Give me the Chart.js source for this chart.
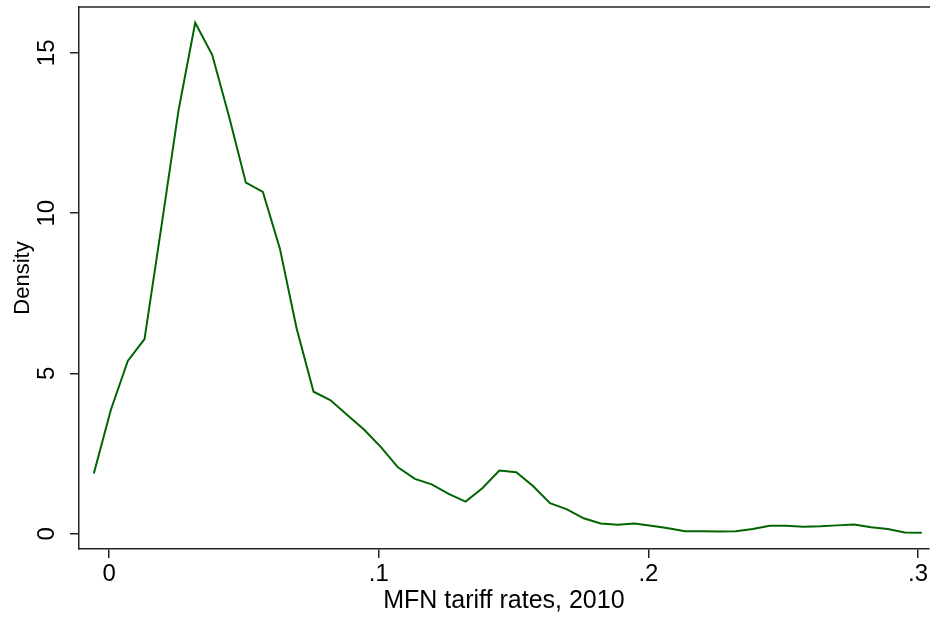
<!DOCTYPE html>
<html>
<head>
<meta charset="utf-8">
<script src="https://cdn.jsdelivr.net/npm/chart.js@4/dist/chart.umd.min.js"></script>
<style>
  html, body { margin: 0; padding: 0; background: #fff; }
  #wrap { width: 930px; height: 618px; }
</style>
</head>
<body>
<div id="wrap"><canvas id="densityChart"></canvas></div>
<script>
// kernel density estimate points
const tariffRates = [-0.0057, 0.0006, 0.0069, 0.0131, 0.0194, 0.0257, 0.0319, 0.0382, 0.0445, 0.0507,
    0.0570, 0.0633, 0.0695, 0.0758, 0.0820, 0.0883, 0.0946, 0.1008, 0.1071, 0.1134,
    0.1196, 0.1259, 0.1322, 0.1384, 0.1447, 0.1510, 0.1572, 0.1635, 0.1698, 0.1760,
    0.1823, 0.1886, 0.1948, 0.2011, 0.2074, 0.2136, 0.2199, 0.2262, 0.2324, 0.2387,
    0.2450, 0.2512, 0.2575, 0.2638, 0.2700, 0.2763, 0.2826, 0.2888, 0.2951, 0.3014];
const density = [1.88, 3.86, 5.39, 6.07, 9.6, 13.2, 15.94, 14.94, 13.0, 10.95,
    10.66, 8.90, 6.41, 4.43, 4.17, 3.70, 3.24, 2.70, 2.07, 1.71,
    1.54, 1.24, 1.00, 1.42, 1.97, 1.92, 1.49, 0.95, 0.76, 0.48,
    0.32, 0.28, 0.32, 0.25, 0.17, 0.08, 0.08, 0.07, 0.08, 0.15,
    0.25, 0.25, 0.22, 0.23, 0.26, 0.29, 0.20, 0.15, 0.04, 0.03];
const xTicks = [0, 0.1, 0.2, 0.3];
const xTickLabels = ['0', '.1', '.2', '.3'];
const yTicks = [0, 5, 10, 15];

const points = tariffRates.map((x, i) => ({x: x, y: density[i]}));
const fontFamily = '"Liberation Sans", Arial, sans-serif';

// top frame line and rotated y tick labels (stata style)
const stataFrame = {
    id: 'stataFrame',
    afterDraw(chart) {
        const ctx = chart.ctx;
        const area = chart.chartArea;
        const yScale = chart.scales.y;
        ctx.save();
        ctx.strokeStyle = '#222';
        ctx.lineWidth = 1.5;
        ctx.beginPath();
        ctx.moveTo(area.left, area.top);
        ctx.lineTo(chart.width, area.top);
        ctx.stroke();

        ctx.fillStyle = '#000';
        ctx.font = '24px ' + fontFamily;
        ctx.textAlign = 'center';
        ctx.textBaseline = 'middle';
        yTicks.forEach(v => {
            const py = yScale.getPixelForValue(v);
            ctx.save();
            ctx.translate(47, py);
            ctx.rotate(-Math.PI / 2);
            ctx.fillText(String(v), 0, 0);
            ctx.restore();
        });
        ctx.restore();
    }
};

new Chart(document.getElementById('densityChart').getContext('2d'), {
    type: 'line',
    data: {
        datasets: [{
            data: points,
            borderColor: '#006400',
            borderWidth: 2,
            pointRadius: 0,
            tension: 0,
            fill: false
        }]
    },
    options: {
        responsive: true,
        maintainAspectRatio: false,
        animation: false,
        layout: {padding: {top: 7, right: 0, left: 0, bottom: 0}},
        plugins: {
            legend: {display: false},
            tooltip: {enabled: false}
        },
        scales: {
            x: {
                type: 'linear',
                min: -0.0112,
                max: 0.304,
                afterBuildTicks: (scale) => { scale.ticks = xTicks.map(v => ({value: v})); },
                afterFit: (scale) => { scale.height = 69; },
                ticks: {
                    color: '#000',
                    font: {family: fontFamily, size: 24},
                    padding: 2,
                    maxRotation: 0,
                    callback: (value) => xTickLabels[xTicks.indexOf(value)]
                },
                grid: {drawOnChartArea: false, drawTicks: true, tickLength: 9, color: '#222', lineWidth: 1.5},
                border: {color: '#222', width: 1.5},
                title: {display: true, text: 'MFN tariff rates, 2010', color: '#000',
                    font: {family: fontFamily, size: 25}, padding: {top: 0, bottom: 2}}
            },
            y: {
                min: -0.477,
                max: 16.43,
                afterBuildTicks: (scale) => { scale.ticks = yTicks.map(v => ({value: v})); },
                afterFit: (scale) => { scale.width = 79; },
                ticks: {display: false},
                grid: {drawOnChartArea: false, drawTicks: true, tickLength: 9, color: '#222', lineWidth: 1.5},
                border: {color: '#222', width: 1.5},
                title: {display: true, text: 'Density', color: '#000',
                    font: {family: fontFamily, size: 22}, padding: {top: 10, bottom: 0}}
            }
        }
    },
    plugins: [stataFrame]
});
</script>
</body>
</html>
